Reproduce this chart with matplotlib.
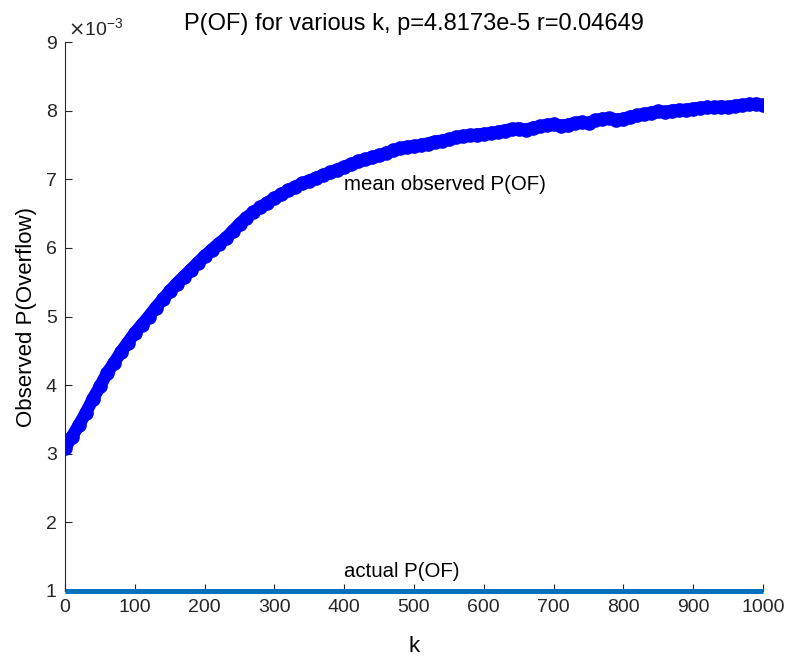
import numpy as np
import matplotlib.pyplot as plt
from matplotlib.ticker import FuncFormatter

plt.rcParams['font.family'] = ['Liberation Sans', 'DejaVu Sans']

# k values and mean observed overflow probability (units of 1e-3)
k = np.arange(0, 1001, 10)
mean_pof = [3.08, 3.25, 3.42, 3.60, 3.80, 3.98, 4.17, 4.32, 4.48, 4.62,
            4.76, 4.88, 5.00, 5.13, 5.25, 5.37, 5.48, 5.58, 5.68, 5.78,
            5.88, 5.97, 6.06, 6.14, 6.24, 6.35, 6.44, 6.52, 6.59, 6.66,
            6.72, 6.78, 6.84, 6.89, 6.94, 6.98, 7.02, 7.06, 7.10, 7.14,
            7.18, 7.22, 7.26, 7.29, 7.32, 7.35, 7.38, 7.42, 7.45, 7.47,
            7.48, 7.50, 7.52, 7.55, 7.56, 7.58, 7.61, 7.63, 7.64, 7.65,
            7.66, 7.67, 7.69, 7.71, 7.73, 7.74, 7.72, 7.75, 7.77, 7.79,
            7.80, 7.78, 7.79, 7.82, 7.83, 7.82, 7.86, 7.88, 7.89, 7.87,
            7.88, 7.91, 7.93, 7.95, 7.97, 7.99, 7.98, 8.00, 8.01, 8.01,
            8.03, 8.04, 8.05, 8.05, 8.06, 8.05, 8.07, 8.08, 8.09, 8.10,
            8.08]
actual_pof = 1.0
scale = 1e-3

mean_pof = np.array(mean_pof)*scale

fig = plt.figure(figsize=(7.85, 6.57), dpi=100)
ax = fig.add_axes([0.0828, 0.1005, 0.8892, 0.8355])

ax.plot(k, mean_pof, '-', color=(0, 0, 1), linewidth=9, solid_capstyle='round')
ax.plot(k, mean_pof, 'o', color=(0, 0, 1), markersize=9.5, markeredgewidth=1)
ax.plot([k[0], k[-1]], [actual_pof*scale]*2, color='#0072BD',
        linewidth=3.6, solid_capstyle='butt', clip_on=False, zorder=5)

ax.text(400, 6.93e-3, 'mean observed P(OF)', fontsize=14.7, va='center',
        ha='left', color='#000000')
ax.text(400, 1.28e-3, 'actual P(OF)', fontsize=14.7, va='center',
        ha='left', color='#000000')

ax.set_xlim(0, 1000)
ax.set_ylim(1e-3, 9e-3)
ax.set_xticks(np.arange(0, 1001, 100))
ax.set_yticks(np.arange(1, 10)*scale)
ax.yaxis.set_major_formatter(FuncFormatter(lambda v, pos: '%g' % round(v/scale, 6)))

for side in ['top', 'right']:
    ax.spines[side].set_visible(False)
for side in ['left', 'bottom']:
    ax.spines[side].set_color('#262626')
    ax.spines[side].set_linewidth(0.8)
ax.tick_params(direction='in', length=5, width=0.8, colors='#262626',
               labelsize=14, pad=6)

ax.text(0.004, 1.005, r'$\times\mathregular{10^{-3}}$', transform=ax.transAxes,
        fontsize=14, color='#262626', ha='left', va='bottom')

ax.set_title('P(OF) for various k, p=4.8173e-5 r=0.04649', fontsize=17,
             color='#000000', pad=9)
ax.set_xlabel('k', fontsize=16, color='#000000', labelpad=14)
ax.set_ylabel('Observed P(Overflow)', fontsize=16, color='#000000', labelpad=6)

fig.savefig('out.png', dpi=100)
